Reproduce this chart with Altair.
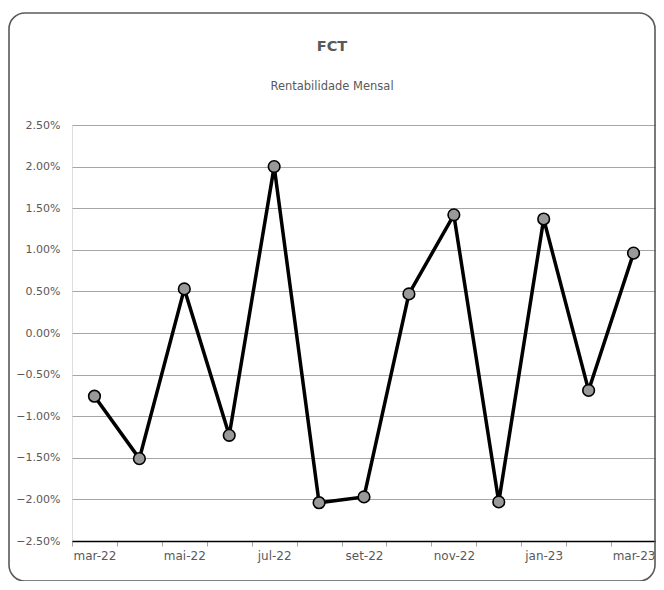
import json
import altair as alt
import pandas as pd

months = ["mar-22", "abr-22", "mai-22", "jun-22", "jul-22", "ago-22", "set-22",
          "out-22", "nov-22", "dez-22", "jan-23", "fev-23", "mar-23 "]
returns = [-0.76, -1.51, 0.53, -1.23, 2.00, -2.04, -1.97,
           0.47, 1.42, -2.03, 1.37, -0.69, 0.96]
shown_labels = ["mar-22", "mai-22", "jul-22", "set-22", "nov-22", "jan-23", "mar-23 "]
y_ticks = [-2.5, -2.0, -1.5, -1.0, -0.5, 0.0, 0.5, 1.0, 1.5, 2.0, 2.5]

df = pd.DataFrame({"mes": months, "ret": [r / 100 for r in returns]})

FONT = "DejaVu Sans"
TXT = "#595959"

x_enc = alt.X(
    "mes:N", sort=months, title=None,
    scale=alt.Scale(paddingInner=0, paddingOuter=0),
    axis=alt.Axis(
        labelAngle=0, domainColor="black", domainWidth=1.5,
        tickColor="#a6a6a6", tickSize=5, tickBand="extent",
        labelColor=TXT, labelFont=FONT, labelFontSize=12, labelPadding=4,
        labelExpr="indexof(" + json.dumps(shown_labels) + ", datum.value) >= 0 ? datum.label : ''",
        grid=False,
    ),
)
y_enc = alt.Y(
    "ret:Q", title=None,
    scale=alt.Scale(domain=[-0.025, 0.025], nice=False, zero=False),
    axis=alt.Axis(
        values=[v / 100 for v in y_ticks], format=".2%", domain=False, ticks=False,
        labelColor=TXT, labelFont=FONT, labelFontSize=11, labelPadding=12,
        grid=True, gridColor="#a6a6a6", gridWidth=1,
    ),
)

line = alt.Chart(df).mark_line(color="black", strokeWidth=3.5).encode(x=x_enc, y=y_enc)
pts = alt.Chart(df).mark_point(
    filled=True, fill="#999999", stroke="black", strokeWidth=1.6, size=135, opacity=1
).encode(x=x_enc, y=y_enc)

one = pd.DataFrame({"a": [0]})
border = alt.Chart(one).mark_rect(
    fill=None, stroke="#595959", strokeWidth=1.6, cornerRadius=16
).encode(x=alt.value(-63), x2=alt.value(583), y=alt.value(-112), y2=alt.value(456))

title = alt.Chart(one).mark_text(
    text="FCT", font=FONT, fontSize=14.5, fontWeight="bold", color=TXT
).encode(x=alt.value(260), y=alt.value(-78))
subtitle = alt.Chart(one).mark_text(
    text="Rentabilidade Mensal", font=FONT, fontSize=11.5, color=TXT
).encode(x=alt.value(260), y=alt.value(-38))

chart = alt.layer(border, line, pts, title, subtitle).properties(
    width=584, height=416,
    autosize=alt.AutoSizeParams(type="none"),
    padding={"left": 64, "top": 117, "right": 0, "bottom": 40},
).configure_view(stroke=None).configure(background="white")

chart.save("out.html", embed_options={"renderer": "svg", "actions": False})
